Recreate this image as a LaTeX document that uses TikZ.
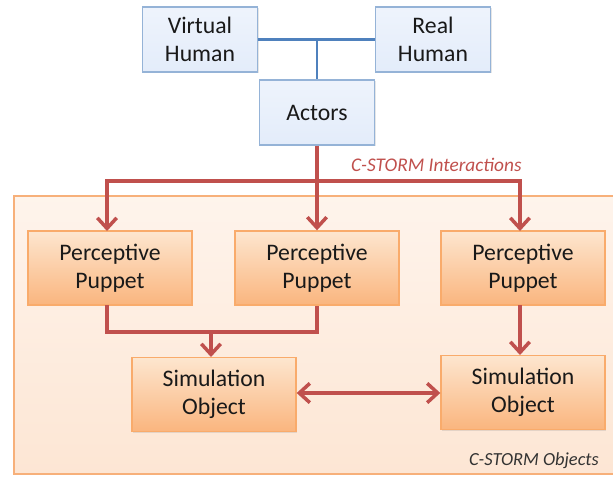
\documentclass[tikz,border=0pt]{standalone}
\usepackage{fontspec}
\setmainfont{Carlito}
\usetikzlibrary{arrows.meta,shadows}

\definecolor{bluefill}{HTML}{E3ECFA}
\definecolor{blueedge}{HTML}{95B3D7}
\definecolor{blueline}{HTML}{4F81BD}
\definecolor{orangetop}{HTML}{FDE6CF}
\definecolor{orangebot}{HTML}{FAB57E}
\definecolor{orangeedge}{HTML}{F79646}
\definecolor{areafill}{HTML}{FDE6D4}
\definecolor{areaedge}{HTML}{F7B07A}
\definecolor{redline}{HTML}{C0504D}

\tikzset{
  actorbox/.style={draw=blueedge, line width=0.8pt, top color=bluefill!60, bottom color=bluefill,
    minimum width=2.3cm, minimum height=1.3cm, align=center,
    font=\fontsize{13.5}{16}\selectfont, text=black!90,
    drop shadow={opacity=0.2, shadow xshift=0.6pt, shadow yshift=-0.6pt}},
  objbox/.style={draw=orangeedge!80, line width=0.8pt, top color=orangetop, bottom color=orangebot,
    minimum width=3.28cm, minimum height=1.48cm, align=center,
    font=\fontsize{13.5}{16}\selectfont, text=black!90,
    drop shadow={opacity=0.2, shadow xshift=0.6pt, shadow yshift=-0.6pt}},
  bluelink/.style={draw=blueline, line width=1.7pt},
  redlink/.style={draw=redline, line width=2pt, -{Straight Barb[length=6pt,width=11pt,line width=2pt]}},
}

\begin{document}
\begin{tikzpicture}[x=0.02cm, y=-0.02cm]
  \useasboundingbox (0,0) rectangle (613,477);

  % objects area
  \shade[top color=areafill!45!white, bottom color=areafill] (14,196) rectangle (620,474);
  \draw[areaedge, line width=0.8pt] (620,196) -- (14,196) -- (14,474) -- (620,474);
  \node[anchor=east, font=\fontsize{10.5}{12}\itshape, text=black!80, inner sep=1pt] (objlabel) at (601,461) {C-STORM Objects};

  % actors
  \node[actorbox] (virtual) at (200,39.5) {Virtual\\Human};
  \node[actorbox] (real) at (433,39.5) {Real\\Human};
  \node[actorbox] (actors) at (317,112.5) {Actors};

  \coordinate (join) at (actors.north |- virtual.east);
  \draw[bluelink] (virtual.east) -- (real.west);
  \draw[bluelink] (join) -- (actors.north);

  % puppets and simulation objects
  \node[objbox] (pp1) at (110,268) {Perceptive\\Puppet};
  \node[objbox] (pp2) at (317,268) {Perceptive\\Puppet};
  \node[objbox] (pp3) at (523,268) {Perceptive\\Puppet};
  \node[objbox] (so1) at (214,394.5) {Simulation\\Object};
  \node[objbox] (so2) at (523,392.5) {Simulation\\Object};

  % interactions
  \coordinate (split) at (317,181);
  \node[anchor=south west, font=\fontsize{11}{13}\itshape, text=redline, inner sep=1pt] (intlabel) at (349,174) {C-STORM Interactions};
  \draw[redline, line width=2pt] (actors.south) -- (split);
  \draw[redlink] (split) -- (107,181) -- (107,231);
  \draw[redlink] (split) -- (pp2.north);
  \draw[redlink] (split) -- (520,181) -- (520,231);

  \coordinate (merge) at (211,332);
  \draw[redline, line width=2pt] (107,305) -- (107,332) -- (317,332) -- (pp2.south);
  \draw[redlink] (merge) -- (211,357);
  \draw[redlink] (520,305) -- (520,355);
  \draw[redlink, {Straight Barb[length=6pt,width=11pt,line width=2pt]}-{Straight Barb[length=6pt,width=11pt,line width=2pt]}] (so1.east |- 0,393) -- (so2.west |- 0,393);
\end{tikzpicture}
\end{document}
